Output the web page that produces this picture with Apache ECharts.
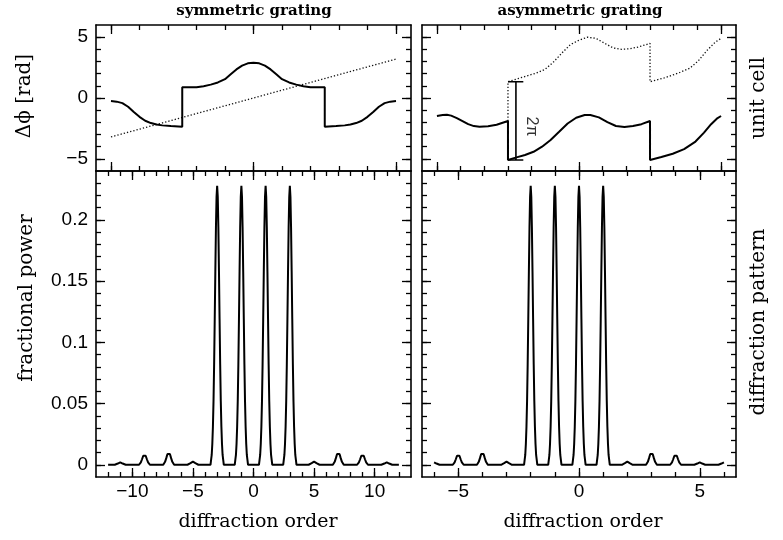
<!DOCTYPE html>
<html><head><meta charset="utf-8">
<script src="https://cdn.jsdelivr.net/npm/echarts@6/dist/echarts.min.js"></script>
<style>html,body{margin:0;padding:0;background:#fff}#c{width:783px;height:540px}</style>
</head><body><div id="c"></div>
<script>
// ---------- data ----------
// unit cell, symmetric grating: [position in cell, phase rad]
const symPhase = [[-0.5,-0.25],[-0.48,-0.30],[-0.46,-0.42],[-0.44,-0.72],[-0.42,-1.15],[-0.40,-1.55],[-0.38,-1.87],[-0.36,-2.06],[-0.34,-2.18],[-0.32,-2.25],[-0.29,-2.31],[-0.25,-2.36],
  [-0.25,0.88],[-0.2,0.88],[-0.175,0.97],[-0.15,1.1],[-0.125,1.28],[-0.1,1.55],[-0.08,1.95],[-0.06,2.35],[-0.04,2.66],[-0.02,2.85],[0,2.9],
  [0.02,2.85],[0.04,2.66],[0.06,2.35],[0.08,1.95],[0.1,1.55],[0.125,1.28],[0.15,1.1],[0.175,0.97],[0.2,0.88],[0.25,0.88],
  [0.25,-2.36],[0.29,-2.31],[0.32,-2.25],[0.34,-2.18],[0.36,-2.06],[0.38,-1.87],[0.40,-1.55],[0.42,-1.15],[0.44,-0.72],[0.46,-0.42],[0.48,-0.30],[0.5,-0.25]];
const symRamp = [[-0.5,-3.2],[0.5,3.2]];
// unit cell, asymmetric grating
const asymPhase = [[-0.5,-1.48],[-0.48,-1.40],[-0.465,-1.38],[-0.45,-1.45],[-0.43,-1.65],[-0.41,-1.9],[-0.39,-2.15],[-0.37,-2.31],[-0.35,-2.36],[-0.32,-2.32],[-0.29,-2.2],[-0.25,-1.89],
  [-0.25,-5.09],[-0.22,-4.88],[-0.19,-4.68],[-0.16,-4.42],[-0.13,-4.0],[-0.1,-3.45],[-0.07,-2.78],[-0.04,-2.1],[-0.01,-1.62],[0.02,-1.40],[0.04,-1.40],[0.07,-1.59],[0.1,-1.98],[0.13,-2.3],[0.16,-2.38],[0.19,-2.3],[0.22,-2.15],[0.25,-1.89],
  [0.25,-5.09],[0.29,-4.85],[0.33,-4.58],[0.37,-4.2],[0.41,-3.58],[0.44,-2.85],[0.465,-2.15],[0.485,-1.7],[0.5,-1.48]];
const asymUnwrapped = [[-0.25,-1.89],[-0.25,1.34],[-0.2,1.70],[-0.15,2.05],[-0.12,2.35],[-0.09,2.95],[-0.06,3.7],[-0.03,4.4],[0,4.75],[0.03,5.0],[0.06,4.9],[0.09,4.5],[0.12,4.12],[0.15,4.0],[0.18,4.05],[0.21,4.2],[0.25,4.49],
  [0.25,1.34],[0.3,1.65],[0.35,2.05],[0.39,2.45],[0.42,3.05],[0.45,3.9],[0.48,4.6],[0.5,4.9]];
const twoPiBar = [[-0.25,1.34],[-0.196,1.34],[-0.222,1.34],[-0.222,-5.09],[-0.25,-5.09],[-0.196,-5.09]];
const twoPiLabel = [[-0.168,-2.34]];
// diffraction pattern, symmetric grating: [order, fractional power]
const symPattern = [[-12,0],
  [-11.45,0],[-11.3,0.0005],[-11.2,0.001],[-11.1,0.0017],[-11,0.002],[-10.9,0.0017],[-10.8,0.001],[-10.7,0.0005],[-10.55,0],
  [-9.45,0],[-9.3,0.002],[-9.2,0.0045],[-9.1,0.0074],[-9,0.0087],[-8.9,0.0074],[-8.8,0.0045],[-8.7,0.002],[-8.55,0],
  [-7.45,0],[-7.3,0.0024],[-7.2,0.0054],[-7.1,0.0088],[-7,0.0103],[-6.9,0.0088],[-6.8,0.0054],[-6.7,0.0024],[-6.55,0],
  [-5.45,0],[-5.3,0.0006],[-5.2,0.0013],[-5.1,0.0021],[-5,0.0025],[-4.9,0.0021],[-4.8,0.0013],[-4.7,0.0006],[-4.55,0],
  [-3.55,0],[-3.5,0.004],[-3.45,0.008],[-3.4,0.017],[-3.35,0.031],[-3.3,0.052],[-3.25,0.082],[-3.2,0.119],[-3.15,0.158],[-3.1,0.194],[-3.05,0.219],[-3,0.228],[-2.95,0.219],[-2.9,0.194],[-2.85,0.158],[-2.8,0.119],[-2.75,0.082],[-2.7,0.052],[-2.65,0.031],[-2.6,0.017],[-2.55,0.008],[-2.5,0.004],[-2.45,0],
  [-1.55,0],[-1.5,0.004],[-1.45,0.008],[-1.4,0.017],[-1.35,0.031],[-1.3,0.052],[-1.25,0.082],[-1.2,0.119],[-1.15,0.158],[-1.1,0.194],[-1.05,0.219],[-1,0.228],[-0.95,0.219],[-0.9,0.194],[-0.85,0.158],[-0.8,0.119],[-0.75,0.082],[-0.7,0.052],[-0.65,0.031],[-0.6,0.017],[-0.55,0.008],[-0.5,0.004],[-0.45,0],
  [0.45,0],[0.5,0.004],[0.55,0.008],[0.6,0.017],[0.65,0.031],[0.7,0.052],[0.75,0.082],[0.8,0.119],[0.85,0.158],[0.9,0.194],[0.95,0.219],[1,0.228],[1.05,0.219],[1.1,0.194],[1.15,0.158],[1.2,0.119],[1.25,0.082],[1.3,0.052],[1.35,0.031],[1.4,0.017],[1.45,0.008],[1.5,0.004],[1.55,0],
  [2.45,0],[2.5,0.004],[2.55,0.008],[2.6,0.017],[2.65,0.031],[2.7,0.052],[2.75,0.082],[2.8,0.119],[2.85,0.158],[2.9,0.194],[2.95,0.219],[3,0.228],[3.05,0.219],[3.1,0.194],[3.15,0.158],[3.2,0.119],[3.25,0.082],[3.3,0.052],[3.35,0.031],[3.4,0.017],[3.45,0.008],[3.5,0.004],[3.55,0],
  [4.55,0],[4.7,0.0006],[4.8,0.0013],[4.9,0.0021],[5,0.0025],[5.1,0.0021],[5.2,0.0013],[5.3,0.0006],[5.45,0],
  [6.55,0],[6.7,0.0024],[6.8,0.0054],[6.9,0.0088],[7,0.0103],[7.1,0.0088],[7.2,0.0054],[7.3,0.0024],[7.45,0],
  [8.55,0],[8.7,0.002],[8.8,0.0045],[8.9,0.0074],[9,0.0087],[9.1,0.0074],[9.2,0.0045],[9.3,0.002],[9.45,0],
  [10.55,0],[10.7,0.0005],[10.8,0.001],[10.9,0.0017],[11,0.002],[11.1,0.0017],[11.2,0.001],[11.3,0.0005],[11.45,0],
  [12,0]];
// diffraction pattern, asymmetric grating
const asymPattern = [[-6,0.002],[-5.95,0.0017],[-5.9,0.001],[-5.85,0.0005],[-5.775,0],
  [-5.225,0],[-5.15,0.002],[-5.1,0.0045],[-5.05,0.0074],[-5,0.0087],[-4.95,0.0074],[-4.9,0.0045],[-4.85,0.002],[-4.775,0],
  [-4.225,0],[-4.15,0.0024],[-4.1,0.0054],[-4.05,0.0088],[-4,0.0103],[-3.95,0.0088],[-3.9,0.0054],[-3.85,0.0024],[-3.775,0],
  [-3.225,0],[-3.15,0.0006],[-3.1,0.0013],[-3.05,0.0021],[-3,0.0025],[-2.95,0.0021],[-2.9,0.0013],[-2.85,0.0006],[-2.775,0],
  [-2.275,0],[-2.25,0.004],[-2.225,0.008],[-2.2,0.017],[-2.175,0.031],[-2.15,0.052],[-2.125,0.082],[-2.1,0.119],[-2.075,0.158],[-2.05,0.194],[-2.025,0.219],[-2,0.228],[-1.975,0.219],[-1.95,0.194],[-1.925,0.158],[-1.9,0.119],[-1.875,0.082],[-1.85,0.052],[-1.825,0.031],[-1.8,0.017],[-1.775,0.008],[-1.75,0.004],[-1.725,0],
  [-1.275,0],[-1.25,0.004],[-1.225,0.008],[-1.2,0.017],[-1.175,0.031],[-1.15,0.052],[-1.125,0.082],[-1.1,0.119],[-1.075,0.158],[-1.05,0.194],[-1.025,0.219],[-1,0.228],[-0.975,0.219],[-0.95,0.194],[-0.925,0.158],[-0.9,0.119],[-0.875,0.082],[-0.85,0.052],[-0.825,0.031],[-0.8,0.017],[-0.775,0.008],[-0.75,0.004],[-0.725,0],
  [-0.275,0],[-0.25,0.004],[-0.225,0.008],[-0.2,0.017],[-0.175,0.031],[-0.15,0.052],[-0.125,0.082],[-0.1,0.119],[-0.075,0.158],[-0.05,0.194],[-0.025,0.219],[0,0.228],[0.025,0.219],[0.05,0.194],[0.075,0.158],[0.1,0.119],[0.125,0.082],[0.15,0.052],[0.175,0.031],[0.2,0.017],[0.225,0.008],[0.25,0.004],[0.275,0],
  [0.725,0],[0.75,0.004],[0.775,0.008],[0.8,0.017],[0.825,0.031],[0.85,0.052],[0.875,0.082],[0.9,0.119],[0.925,0.158],[0.95,0.194],[0.975,0.219],[1,0.228],[1.025,0.219],[1.05,0.194],[1.075,0.158],[1.1,0.119],[1.125,0.082],[1.15,0.052],[1.175,0.031],[1.2,0.017],[1.225,0.008],[1.25,0.004],[1.275,0],
  [1.775,0],[1.85,0.0006],[1.9,0.0013],[1.95,0.0021],[2,0.0025],[2.05,0.0021],[2.1,0.0013],[2.15,0.0006],[2.225,0],
  [2.775,0],[2.85,0.0024],[2.9,0.0054],[2.95,0.0088],[3,0.0103],[3.05,0.0088],[3.1,0.0054],[3.15,0.0024],[3.225,0],
  [3.775,0],[3.85,0.002],[3.9,0.0045],[3.95,0.0074],[4,0.0087],[4.05,0.0074],[4.1,0.0045],[4.15,0.002],[4.225,0],
  [4.775,0],[4.85,0.0005],[4.9,0.001],[4.95,0.0017],[5,0.002],[5.05,0.0017],[5.1,0.001],[5.15,0.0005],[5.225,0],
  [5.775,0],[5.85,0.0005],[5.9,0.001],[5.95,0.0017],[6,0.002]];

// ---------- ticks ----------
const cellTicksSym = [-0.5,-0.4,-0.3,-0.2,-0.1,0,0.1,0.2,0.3,0.4,0.5];
const cellTicksAsym = [-0.5,-0.4167,-0.3333,-0.25,-0.1667,-0.0833,0,0.0833,0.1667,0.25,0.3333,0.4167,0.5];
const cellMajor = [-0.5,0,0.5];
const phaseMinor = [-5,-4,-3,-2,-1,0,1,2,3,4,5];
const phaseMajor = [-5,0,5];
const powerMinor = [0,0.01,0.02,0.03,0.04,0.05,0.06,0.07,0.08,0.09,0.1,0.11,0.12,0.13,0.14,0.15,0.16,0.17,0.18,0.19,0.2,0.21,0.22,0.23];
const powerMajor = [0,0.05,0.1,0.15,0.2];
const orderMinorSym = [-12,-11,-10,-9,-8,-7,-6,-5,-4,-3,-2,-1,0,1,2,3,4,5,6,7,8,9,10,11,12];
const orderMajorSym = [-10,-5,0,5,10];
const orderMinorAsym = [-6,-5,-4,-3,-2,-1,0,1,2,3,4,5,6];
const orderMajorAsym = [-5,0,5];

// ---------- layout ----------
const grids = [
  {left:96, top:25, width:315, height:146},
  {left:422, top:25, width:314, height:146},
  {left:96, top:171, width:315, height:306},
  {left:422, top:171, width:314, height:306}
];
const TICKFONT = '"Liberation Sans", Arial, sans-serif';
const fmt = v => (v < 0 ? '\u2212' : '') + String(Math.abs(v));
const xAxes = [], yAxes = [];
function addAxes(list, gi, sides, min, max, minor, major, labelled) {
  const first = list.length;
  sides.forEach((pos, k) => {
    list.push({type:'value', gridIndex:gi, position:pos, min:min, max:max,
      axisLine:{show:true, onZero:false, lineStyle:{color:'#000', width:1.6}},
      axisTick:{show:true, inside:true, length:5, customValues:minor, lineStyle:{color:'#000', width:1.3}},
      axisLabel:{show:false}, splitLine:{show:false}, z:5});
    const showLab = labelled && k === 0;
    list.push({type:'value', gridIndex:gi, position:pos, min:min, max:max,
      axisLine:{show:false, onZero:false},
      axisTick:{show:true, inside:true, length:9, customValues:major, lineStyle:{color:'#000', width:1.3}},
      axisLabel: showLab ? {show:true, customValues:major, formatter:fmt, color:'#000', fontFamily:TICKFONT, fontSize:19, margin:pos==='left'?8:5} : {show:false},
      splitLine:{show:false}, z:5});
  });
  return first;
}
const CELL = 0.5526;
const xTL = addAxes(xAxes, 0, ['bottom','top'], -CELL, CELL, cellTicksSym, cellMajor, false);
const yTL = addAxes(yAxes, 0, ['left','right'], -6, 6, phaseMinor, phaseMajor, true);
const xTR = addAxes(xAxes, 1, ['bottom','top'], -CELL, CELL, cellTicksAsym, cellMajor, false);
const yTR = addAxes(yAxes, 1, ['left','right'], -6, 6, phaseMinor, phaseMajor, false);
const xBL = addAxes(xAxes, 2, ['bottom','top'], -13, 13, orderMinorSym, orderMajorSym, true);
const yBL = addAxes(yAxes, 2, ['left','right'], -0.01, 0.24, powerMinor, powerMajor, true);
const xBR = addAxes(xAxes, 3, ['bottom','top'], -6.5, 6.5, orderMinorAsym, orderMajorAsym, true);
const yBR = addAxes(yAxes, 3, ['left','right'], -0.01, 0.24, powerMinor, powerMajor, false);

function line(data, xi, yi, width, dotted, color) {
  return {type:'line', data:data, xAxisIndex:xi, yAxisIndex:yi, showSymbol:false, symbol:'none',
    lineStyle:{color:color || '#000', width:width, type: dotted ? [1.3, 2] : 'solid'}, z:3, animation:false};
}
const series = [
  line(symRamp, xTL, yTL, 1.3, true, '#111'),
  line(symPhase, xTL, yTL, 2, false),
  line(asymUnwrapped, xTR, yTR, 1.3, true, '#111'),
  line(asymPhase, xTR, yTR, 2, false),
  line(twoPiBar, xTR, yTR, 1.6, false),
  {type:'scatter', data:twoPiLabel, xAxisIndex:xTR, yAxisIndex:yTR, symbolSize:2, z:6,
    itemStyle:{color:'rgba(0,0,0,0)'},
    label:{show:true, position:'inside', formatter:'2\u03c0', rotate:-90, color:'#000', fontSize:16, fontFamily:TICKFONT},
    labelLayout:{hideOverlap:false}, animation:false}
  ,line(symPattern, xBL, yBL, 2, false),
  line(asymPattern, xBR, yBR, 2, false)
];

const SERIF = '"DejaVu Serif", "Liberation Serif", serif';
function txt(s, x, y, font, rot) {
  return {type:'text', x:x, y:y, rotation:rot || 0, z:10,
    style:{text:s, x:0, y:0, font:font, fill:'#000', textAlign:'center', textVerticalAlign:'middle'}};
}
const graphic = [
  txt('symmetric grating', 254, 11, 'bold 15px ' + SERIF),
  txt('asymmetric grating', 580, 11, 'bold 15px ' + SERIF),
  txt('diffraction order', 258, 522, '19px ' + SERIF),
  txt('diffraction order', 583, 522, '19px ' + SERIF),
  txt('\u0394\u03d5 [rad]', 25, 96, '20px ' + SERIF, Math.PI/2),
  txt('fractional power', 27, 298, '20px ' + SERIF, Math.PI/2),
  txt('unit cell', 759, 98, '20px ' + SERIF, Math.PI/2),
  txt('diffraction pattern', 759, 322, '20px ' + SERIF, Math.PI/2)
];

const chart = echarts.init(document.getElementById('c'), null, {renderer:'canvas'});
chart.setOption({backgroundColor:'#fff', animation:false, grid:grids, xAxis:xAxes, yAxis:yAxes, series:series, graphic:graphic});
</script></body></html>
